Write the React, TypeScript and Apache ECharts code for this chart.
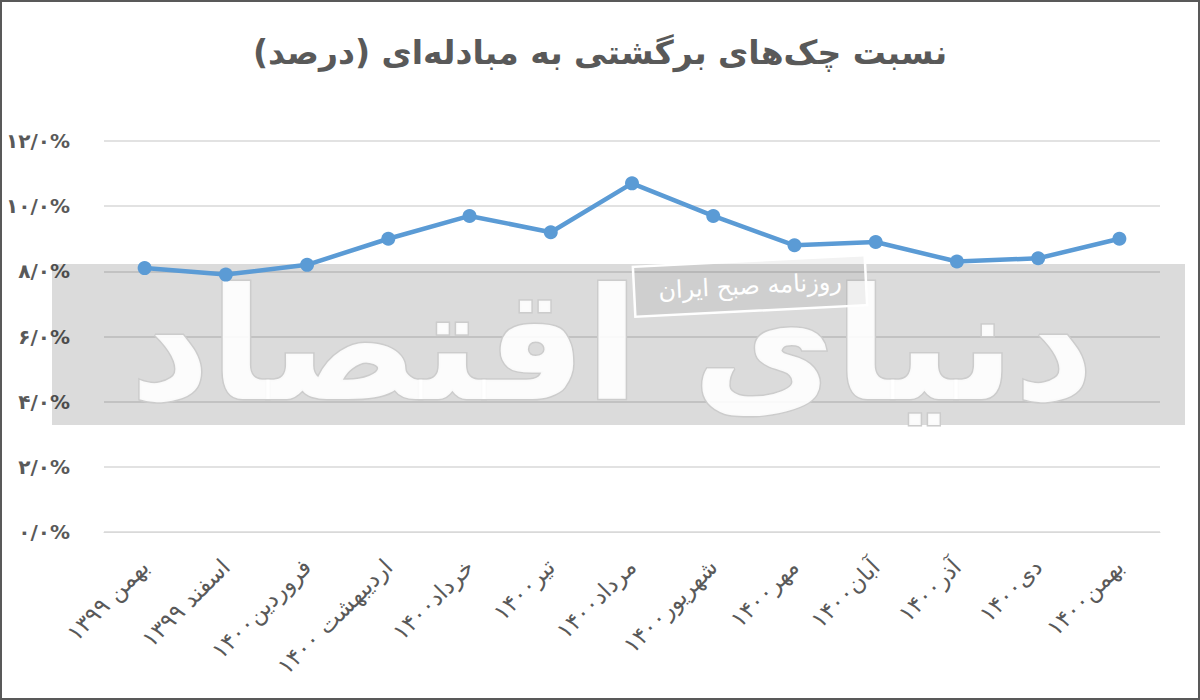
import React, { useEffect, useRef } from "react";
import * as echarts from "echarts";

// دسته‌ها (ماه‌ها)
const months = [
  "بهمن ۱۳۹۹",
  "اسفند ۱۳۹۹",
  "فروردین۱۴۰۰",
  "اردیبهشت ۱۴۰۰",
  "خرداد۱۴۰۰",
  "تیر۱۴۰۰",
  "مرداد۱۴۰۰",
  "شهریور۱۴۰۰",
  "مهر۱۴۰۰",
  "آبان۱۴۰۰",
  "آذر۱۴۰۰",
  "دی۱۴۰۰",
  "بهمن۱۴۰۰",
];

// نسبت چک‌های برگشتی (درصد)
const bounceRatio = [8.1, 7.9, 8.2, 9.0, 9.7, 9.2, 10.7, 9.7, 8.8, 8.9, 8.3, 8.4, 9.0];

const titleText = "نسبت چک‌های برگشتی به مبادله‌ای (درصد)";
const stampText = "روزنامه صبح ایران";
const watermarkText = "دنیای اقتصاد";

const faDigits = ["۰", "۱", "۲", "۳", "۴", "۵", "۶", "۷", "۸", "۹"];
const toFa = (s: string) => s.replace(/[0-9]/g, (d) => faDigits[Number(d)]);

const FONT = "DejaVu Sans";
const GREY = "#595959";

const App: React.FC = () => {
  const chartRef = useRef<HTMLDivElement | null>(null);

  useEffect(() => {
    if (!chartRef.current) return;
    const chart = echarts.init(chartRef.current, undefined, { renderer: "svg" });

    const option: echarts.EChartsOption = {
      animation: false,
      backgroundColor: "#ffffff",
      textStyle: { fontFamily: FONT },
      title: {
        text: titleText,
        left: "center",
        top: 31,
        textStyle: { fontSize: 33, fontWeight: "bold", color: GREY, fontFamily: FONT },
      },
      grid: { left: 104, right: 40, top: 141, bottom: 168 },
      xAxis: {
        type: "category",
        data: months,
        boundaryGap: true,
        axisLine: { lineStyle: { color: "#d9d9d9" } },
        axisTick: { show: false },
        axisLabel: {
          rotate: 45,
          margin: 31,
          fontSize: 23,
          color: GREY,
          fontFamily: FONT,
          interval: 0,
        },
      },
      yAxis: {
        type: "value",
        min: 0,
        max: 12,
        interval: 2,
        axisLine: { show: false },
        axisTick: { show: false },
        splitLine: { lineStyle: { color: "#d9d9d9", width: 1.5 } },
        axisLabel: {
          margin: 34,
          fontSize: 20,
          fontWeight: "bold",
          color: GREY,
          fontFamily: FONT,
          formatter: (v: number) => toFa(v.toFixed(1)).replace(".", "/") + "%",
        },
      },
      graphic: [
        // نوار خاکستری واترمارک
        {
          type: "rect",
          z: 1,
          silent: true,
          shape: { x: 52, y: 264, width: 1133, height: 161 },
          style: { fill: "rgba(0,0,0,0.14)" },
        },
        {
          type: "text",
          z: 1,
          silent: true,
          x: 612,
          y: 345,
          style: {
            text: watermarkText,
            font: `bold 155px "${FONT}"`,
            fill: "rgba(255,255,255,0.9)",
            stroke: "#cccccc",
            lineWidth: 3,
            align: "center",
            verticalAlign: "middle",
          },
        },
        // مهر روزنامه
        {
          type: "group",
          z: 2,
          x: 750,
          y: 286,
          rotation: 0.05,
          silent: true,
          children: [
            {
              type: "rect",
              z: 2,
              shape: { x: -116, y: -25, width: 232, height: 50 },
              style: { fill: "rgba(0,0,0,0.05)", stroke: "#ffffff", lineWidth: 2.5 },
            },
            {
              type: "text",
              z: 2,
              style: {
                text: stampText,
                font: `24px "${FONT}"`,
                fill: "#ffffff",
                align: "center",
                verticalAlign: "middle",
              },
            },
          ],
        },
        // قاب دور نمودار
        {
          type: "rect",
          z: 10,
          silent: true,
          shape: { x: 1, y: 1, width: 1198, height: 698 },
          style: { fill: "none", stroke: GREY, lineWidth: 2 },
        },
      ],
      series: [
        {
          type: "line",
          data: bounceRatio,
          z: 3,
          symbol: "circle",
          symbolSize: 14,
          lineStyle: { color: "#5b9bd5", width: 4.5 },
          itemStyle: { color: "#5b9bd5" },
        },
      ],
    };

    chart.setOption(option);
    return () => chart.dispose();
  }, []);

  return (
    <div
      ref={chartRef}
      style={{ position: "fixed", left: 0, top: 0, width: "1200px", height: "700px" }}
    />
  );
};

export default App;
